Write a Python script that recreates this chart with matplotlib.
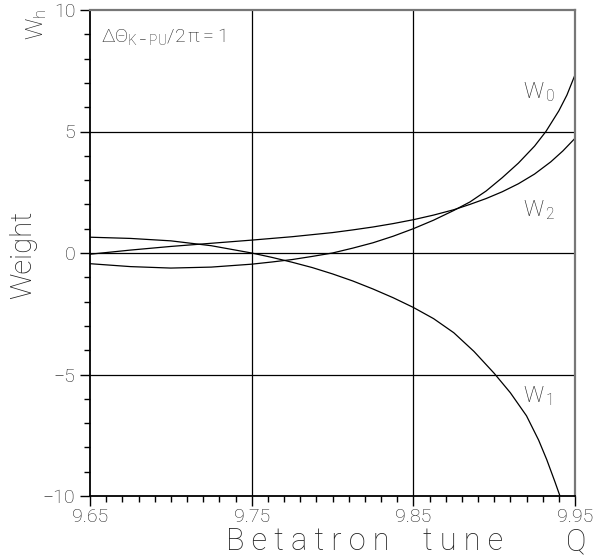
import numpy as np
import matplotlib
matplotlib.use("Agg")
import matplotlib.pyplot as plt
from matplotlib.ticker import MultipleLocator, FixedLocator

plt.rcParams['font.family'] = ['Roboto', 'DejaVu Sans']
plt.rcParams['font.weight'] = 'light'
plt.rcParams['mathtext.fontset'] = 'custom'
plt.rcParams['mathtext.rm'] = 'Roboto:light'
plt.rcParams['mathtext.it'] = 'Roboto:light'
plt.rcParams['mathtext.default'] = 'regular'

# weights (tune Q -> weight)
q_w0 = [9.65, 9.675, 9.70, 9.725, 9.75, 9.7625, 9.775, 9.7875, 9.80, 9.8125,
        9.825, 9.8375, 9.85, 9.8625, 9.875, 9.885, 9.895, 9.905, 9.915,
        9.925, 9.932, 9.94, 9.945, 9.95]
w0 = [-0.44, -0.56, -0.62, -0.58, -0.46, -0.37, -0.27, -0.14, 0.0, 0.2,
      0.42, 0.69, 1.0, 1.35, 1.75, 2.1, 2.55, 3.1, 3.7,
      4.4, 5.0, 5.85, 6.5, 7.33]

q_w1 = [9.65, 9.675, 9.70, 9.725, 9.75, 9.7625, 9.775, 9.7875, 9.80, 9.8125,
        9.825, 9.8375, 9.85, 9.8625, 9.875, 9.8875, 9.90, 9.91, 9.92,
        9.9275, 9.9325, 9.9375, 9.9407]
w1 = [0.65, 0.60, 0.50, 0.30, 0.0, -0.18, -0.38, -0.6, -0.86, -1.15,
      -1.48, -1.84, -2.24, -2.7, -3.28, -4.05, -4.95, -5.75, -6.7,
      -7.7, -8.5, -9.4, -10.0]

q_w2 = [9.65, 9.675, 9.70, 9.725, 9.75, 9.775, 9.80, 9.8125, 9.825, 9.8375,
        9.85, 9.8625, 9.875, 9.885, 9.895, 9.905, 9.915, 9.925, 9.935,
        9.9425, 9.95]
w2 = [-0.05, 0.12, 0.27, 0.40, 0.53, 0.67, 0.84, 0.95, 1.07, 1.21,
      1.37, 1.56, 1.78, 2.0, 2.24, 2.52, 2.85, 3.25, 3.75,
      4.2, 4.72]

x_major = [9.65, 9.75, 9.85, 9.95]
y_major = [-10, -5, 0, 5, 10]
x_grid = [9.75, 9.85]
y_grid = [-5, 0, 5]

fig = plt.figure(figsize=(6.03, 5.56), dpi=100)
ax = fig.add_axes([90 / 603, 1 - 496 / 556, 485 / 603, 486 / 556])

for g in x_grid:
    ax.axvline(g, color='black', lw=0.9, zorder=1)
for g in y_grid:
    ax.axhline(g, color='black', lw=0.9, zorder=1)

for q, w in [(q_w0, w0), (q_w1, w1), (q_w2, w2)]:
    ax.plot(q, w, color='black', lw=0.9, zorder=2)

ax.set_xlim(9.65, 9.95)
ax.set_ylim(-10, 10)

ax.xaxis.set_major_locator(FixedLocator(x_major))
ax.xaxis.set_minor_locator(MultipleLocator(0.01))
ax.yaxis.set_major_locator(FixedLocator(y_major))
ax.yaxis.set_minor_locator(MultipleLocator(1))
ax.set_xticklabels(['%.2f' % v for v in x_major])
ax.set_yticklabels(['\u2212%d' % -v if v < 0 else '%d' % v for v in y_major])

ax.tick_params(which='major', direction='out', length=7, width=1,
               labelsize=14, pad=1.5, colors='black', labelcolor='#222')
ax.tick_params(axis='y', which='major', length=7.5, pad=3)
ax.tick_params(which='minor', direction='out', length=4, width=1)

for s in ['left', 'bottom']:
    ax.spines[s].set_linewidth(1.3)
    ax.spines[s].set_color('black')
for s in ['top', 'right']:
    ax.spines[s].set_linewidth(1.6)
    ax.spines[s].set_color('#777777')

# labels
lab = dict(va='center', fontsize=22, color='#222')
fig.text(226 / 603, 1 - 542 / 556, 'B e t a t r o n', ha='left', **lab)
fig.text(423 / 603, 1 - 542 / 556, 't u n e', ha='left', **lab)
fig.text(586 / 603, 1 - 542 / 556, 'Q', ha='right', **lab)
fig.text(23 / 603, 1 - 255 / 556, 'Weight', rotation=90,
         ha='center', va='center', fontsize=21, color='#222')
fig.text(37 / 603, 1 - 24 / 556, r'$W_h$', rotation=90,
         ha='center', va='center', fontsize=17, color='#222')

ax.text(9.657, 8.9, r'$\Delta\Theta_{K-PU}/2\,\pi=1$',
        ha='left', va='center', fontsize=14, color='#222')

for name, yv in [(r'$W_{\,0}$', 6.6), (r'$W_{\,2}$', 1.75), (r'$W_{\,1}$', -5.9)]:
    ax.text(9.918, yv, name, fontsize=16, ha='left', va='center', color='#222')

fig.savefig('out.png', dpi=100)
